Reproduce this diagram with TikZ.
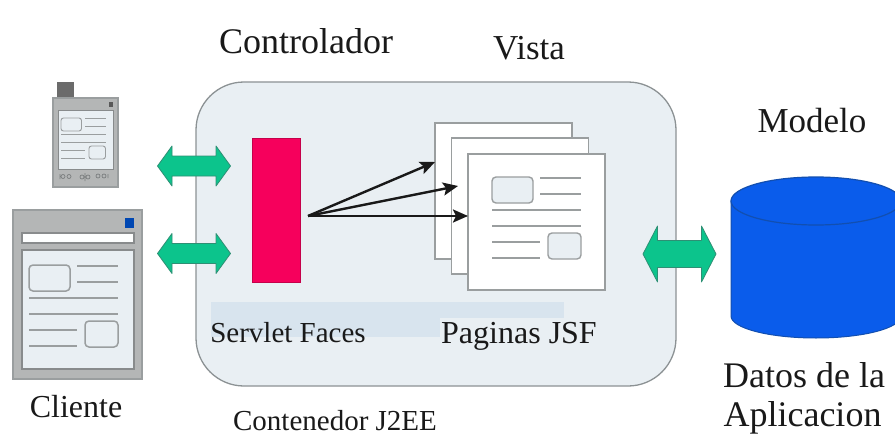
\documentclass[tikz,border=0pt]{standalone}
\usepackage{fontspec}
\setmainfont{Liberation Serif}
\usetikzlibrary{arrows.meta}
\definecolor{panel}{HTML}{E9EFF3}
\definecolor{panelline}{HTML}{8C9294}
\definecolor{bandc}{HTML}{D8E4EE}
\definecolor{redbar}{HTML}{F6005C}
\definecolor{greyline}{HTML}{9A9E9F}
\definecolor{greybody}{HTML}{B4B6B6}
\definecolor{greenarrow}{HTML}{0CC48C}
\definecolor{greenedge}{HTML}{2E8F74}
\definecolor{cylblue}{HTML}{0A5CEB}
\definecolor{cyledge}{HTML}{124FB0}
\tikzset{
  x=1pt,y=-1pt,
  every node/.style={inner sep=0pt,outer sep=0pt},
  label text/.style={anchor=base,text=black!90},
  pagebox/.style={draw=greyline,fill=white,line width=1.2pt,anchor=north west,minimum width=137pt,minimum height=136pt},
  devicebody/.style={draw=greyline,fill=greybody,line width=1.2pt},
  devicescreen/.style={draw=greyline!88!black,fill=panel,line width=1.2pt},
  flow/.style={-{Stealth[length=15pt,width=13pt,inset=3pt]},line width=2.4pt,draw=black!90},
  pics/docface/.style 2 args={code={
    \draw[draw=greyline,line width=#1,rounded corners=#2,fill=panel] (0,0) rectangle (41,26);
    \draw[draw=greyline,line width=#1,rounded corners=#2,fill=panel] (56,56) rectangle (89,82);
    \draw[draw=greyline,line width=#1]
      (48,1)--(89,1) (48,17)--(89,17) (0,33)--(89,33) (0,49)--(89,49) (0,65)--(48,65) (0,81)--(48,81);
  }},
  pics/blockarrow/.style 2 args={code={
    \draw[fill=greenarrow,draw=greenedge,line width=.8pt,line join=round]
      (-36.5,0)--(-22,-#2)--(-22,-#1)--(22,-#1)--(22,-#2)--(36.5,0)--(22,#2)--(22,#1)--(-22,#1)--(-22,#2)--cycle;
  }}
}
\begin{document}
\begin{tikzpicture}
\useasboundingbox (0,0) rectangle (895,436);
\fill[white] (0,0) rectangle (895,436);

% container
\draw[fill=panel,draw=panelline,line width=1.3pt,rounded corners=48pt] (196,82) rectangle (676,386);
\fill[bandc] (211,302) rectangle (564,318);
\fill[bandc] (211,318) rectangle (440,337);

% phone
\fill[fill=black!58] (57,82) rectangle (74,98);
\draw[devicebody] (53,98) rectangle (118,187);
\draw[devicescreen,line width=1pt] (58,111) rectangle (113,169);
\fill[black!65] (109,102) rectangle (113,107);
\pic[scale=.5] at (61,118) {docface={.9pt}{2.5pt}};
\begin{scope}[draw=greyline!80!black,line width=.7pt]
  \draw (60,174) -- (60,179) (63,176.5) circle (2) (69,176.5) circle (2);
  \draw (82,177) circle (2) (85,173)--(85,181) (88,177) circle (2);
  \draw (98,176) circle (2) (104,176) circle (2) (108,174)--(108,178);
\end{scope}

% desktop client
\draw[devicebody,line width=1.4pt] (13,210) rectangle (142,379);
\draw[devicescreen,fill=white!92!panel] (22,233) rectangle (134,243);
\draw[devicescreen,line width=1.4pt] (22,250) rectangle (134,369);
\fill[blue!60!cyan!70!black] (125,218) rectangle (134,228);
\pic at (29,265) {docface={1.5pt}{4pt}};

% servlet
\node[draw=redbar!80!black,fill=redbar,line width=.6pt,anchor=north west,minimum width=48pt,minimum height=144pt] (servlet) at (252.5,138) {};
\coordinate (fanout) at (308,216);

% pages
\node[pagebox] (page1) at (435,123) {};
\node[pagebox] (page2) at (451.5,138) {};
\node[pagebox] (page3) at (468,154) {};
\pic at (492,177) {docface={1.4pt}{4pt}};

\coordinate (target1) at (page1.west |- 0,162);
\coordinate (target2) at (458,186);
\coordinate (target3) at (page3.west |- fanout);
\draw[flow] (fanout) -- (target1);
\draw[flow] (fanout) -- (target2);
\draw[flow] (fanout) -- (target3);

% block arrows
\pic at (194,166) {blockarrow={10}{20}};
\pic at (194,253.5) {blockarrow={10}{20}};
\pic at (679.5,254) {blockarrow={13.5}{28}};

% database cylinder
\begin{scope}
  \clip (700,160) rectangle (895,350);
  \draw[fill=cylblue,draw=cyledge,line width=1pt]
    (731,201) -- (731,316) arc[start angle=180,end angle=360,x radius=85,y radius=-22] -- (901,201) -- cycle;
  \draw[fill=cylblue,draw=cyledge,line width=1.2pt] (816,201) ellipse[x radius=85,y radius=24];
\end{scope}

% texts
\node[label text,font=\fontsize{36}{36}\selectfont] (controller) at (306,54) {Controlador};
\node[label text,font=\fontsize{35}{35}\selectfont] (view) at (529,60) {Vista};
\node[label text,font=\fontsize{35}{35}\selectfont] (model) at (812,132) {Modelo};
\node[label text,font=\fontsize{36}{36}\selectfont] (data1) at (804,387) {Datos de la};
\node[label text,font=\fontsize{36}{36}\selectfont] (data2) at (802.5,426) {Aplicacion};
\node[label text,font=\fontsize{32}{32}\selectfont] (client) at (76,417) {Cliente};
\node[label text,font=\fontsize{29}{29}\selectfont] (servletlabel) at (288,342) {Servlet Faces};
\node[label text,font=\fontsize{32}{32}\selectfont] (pageslabel) at (519,343) {Paginas JSF};
\node[label text,font=\fontsize{29}{29}\selectfont] (containerlabel) at (335,430) {Contenedor J2EE};
\end{tikzpicture}
\end{document}
